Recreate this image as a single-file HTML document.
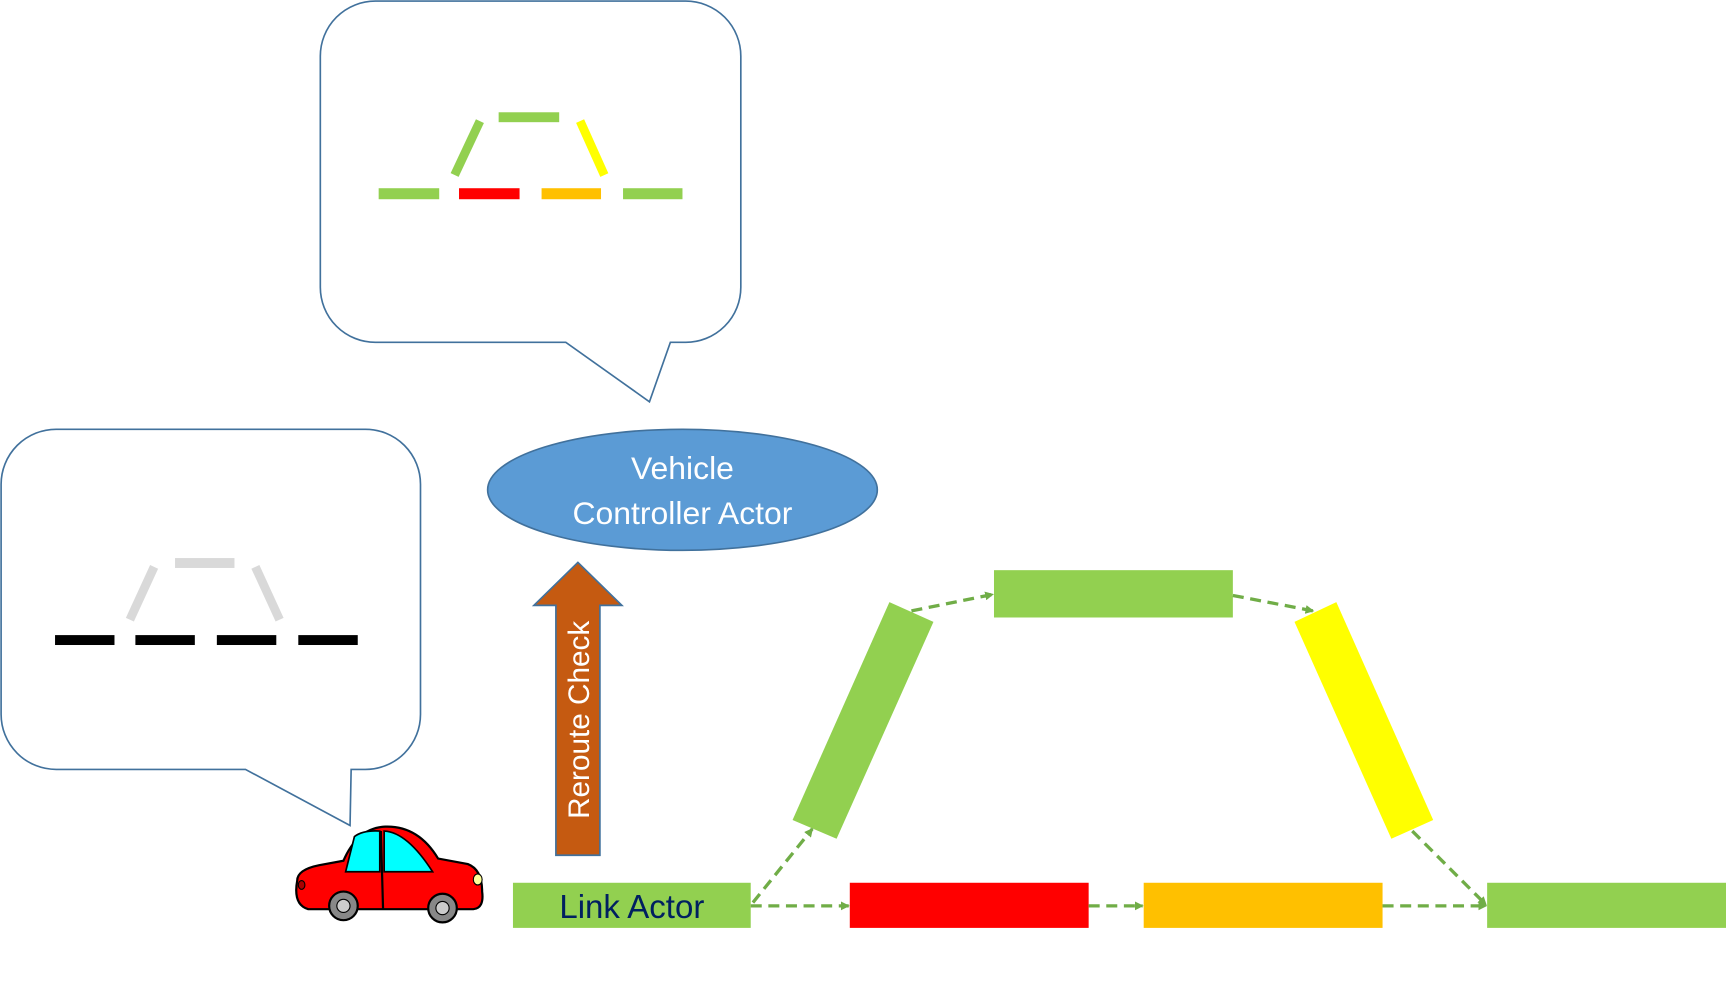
<!DOCTYPE html>
<html><head><meta charset="utf-8"><style>
html,body{margin:0;padding:0;background:#fff;}
svg{display:block;}
text{font-family:"Liberation Sans",sans-serif;}
</style></head><body>
<svg width="1726" height="987" viewBox="0 0 1568 896.7" preserveAspectRatio="none" xmlns="http://www.w3.org/2000/svg">
<defs>
<marker id="ah" markerWidth="8" markerHeight="8" refX="7" refY="4" orient="auto" markerUnits="userSpaceOnUse"><path d="M0,0 L8,4 L0,8 z" fill="#70ad47"/></marker>
</defs>
<!-- top callout -->
<path d="M341,1 H623 A50,50 0 0 1 673,51 V261 A50,50 0 0 1 623,311 H609 L590,365 L514,311 H341 A50,50 0 0 1 291,261 V51 A50,50 0 0 1 341,1 Z" fill="#fff" stroke="#41719c" stroke-width="1.5"/>
<rect x="344" y="171" width="55" height="10" fill="#92d050"/>
<rect x="417" y="171" width="55" height="10" fill="#ff0000"/>
<rect x="492" y="171" width="54" height="10" fill="#ffc000"/>
<rect x="566" y="171" width="54" height="10" fill="#92d050"/>
<rect x="453" y="102" width="55" height="9" fill="#92d050"/>
<line x1="413" y1="159" x2="436" y2="110" stroke="#92d050" stroke-width="8"/>
<line x1="527" y1="110" x2="549" y2="159" stroke="#ffff00" stroke-width="8"/>
<!-- left callout -->
<path d="M51,390 H332 A50,50 0 0 1 382,440 V649 A50,50 0 0 1 332,699 H319 L318,750 L223,699 H51 A50,50 0 0 1 1,649 V440 A50,50 0 0 1 51,390 Z" fill="#fff" stroke="#41719c" stroke-width="1.5"/>
<rect x="50" y="577" width="54" height="9" fill="#000"/>
<rect x="123" y="577" width="54" height="9" fill="#000"/>
<rect x="197" y="577" width="54" height="9" fill="#000"/>
<rect x="271" y="577" width="54" height="9" fill="#000"/>
<rect x="159" y="507" width="54" height="9" fill="#d9d9d9"/>
<line x1="118" y1="563" x2="140" y2="515" stroke="#d9d9d9" stroke-width="8"/>
<line x1="232" y1="515" x2="254" y2="563" stroke="#d9d9d9" stroke-width="8"/>
<!-- ellipse -->
<ellipse cx="620" cy="445" rx="177" ry="55" fill="#5b9bd5" stroke="#41719c" stroke-width="1.5"/>
<text x="620" y="435" text-anchor="middle" fill="#fff" font-size="29">Vehicle</text>
<text x="620" y="476" text-anchor="middle" fill="#fff" font-size="29">Controller Actor</text>
<!-- up arrow -->
<path d="M505,777 V550 H485 L525,511 L565,550 H545 V777 Z" fill="#c55a11" stroke="#41719c" stroke-width="1.5"/>
<text transform="translate(535,654) rotate(-90)" text-anchor="middle" fill="#fff" font-size="27">Reroute Check</text>
<!-- links -->
<rect x="466" y="802" width="216" height="41" fill="#92d050"/>
<text x="574" y="834" text-anchor="middle" fill="#002060" font-size="30">Link Actor</text>
<rect x="772" y="802" width="217" height="41" fill="#ff0000"/>
<rect x="1039" y="802" width="217" height="41" fill="#ffc000"/>
<rect x="1351" y="802" width="217" height="41" fill="#92d050"/>
<polygon points="720,745 808,547 848,565 760,762" fill="#92d050"/>
<rect x="903" y="518" width="217" height="43" fill="#92d050"/>
<polygon points="1176,565 1214,547 1302,745 1264,762" fill="#ffff00"/>
<!-- dashed arrows -->
<g stroke="#70ad47" stroke-width="3" stroke-dasharray="10,6" fill="none" marker-end="url(#ah)">
<line x1="682" y1="823" x2="771" y2="823"/>
<line x1="989" y1="823" x2="1038" y2="823"/>
<line x1="1256" y1="823" x2="1350" y2="823"/>
<line x1="684" y1="820" x2="738" y2="753"/>
<line x1="828" y1="555" x2="902" y2="540"/>
<line x1="1120" y1="541" x2="1193" y2="555"/>
<line x1="1283" y1="755" x2="1350" y2="822"/>
</g>
<!-- car -->
<g stroke="#000" stroke-width="2">
<path d="M270,800 Q270,790 290,786 L312,782 Q325,752 350,751 Q380,750 398,780 L425,785 Q438,790 438,810 Q440,825 430,826 L280,826 Q266,822 270,800 Z" fill="#ff0000"/>
<path d="M314,792 L322,760 Q330,754 345,755 L345,792 Z" fill="#00ffff" stroke-width="1.5"/>
<path d="M349,755 Q370,756 393,792 L349,792 Z" fill="#00ffff" stroke-width="1.5"/>
<line x1="346" y1="755" x2="348" y2="826"/>
<circle cx="312" cy="823" r="13" fill="#888"/><circle cx="312" cy="823" r="6" fill="#ccc" stroke-width="1"/>
<circle cx="402" cy="825" r="13" fill="#888"/><circle cx="402" cy="825" r="6" fill="#ccc" stroke-width="1"/>
<ellipse cx="434" cy="799" rx="4" ry="5" fill="#ffff99" stroke-width="1"/>
<ellipse cx="274" cy="804" rx="3" ry="4" fill="#a00" stroke-width="1"/>
</g>
</svg>
</body></html>
